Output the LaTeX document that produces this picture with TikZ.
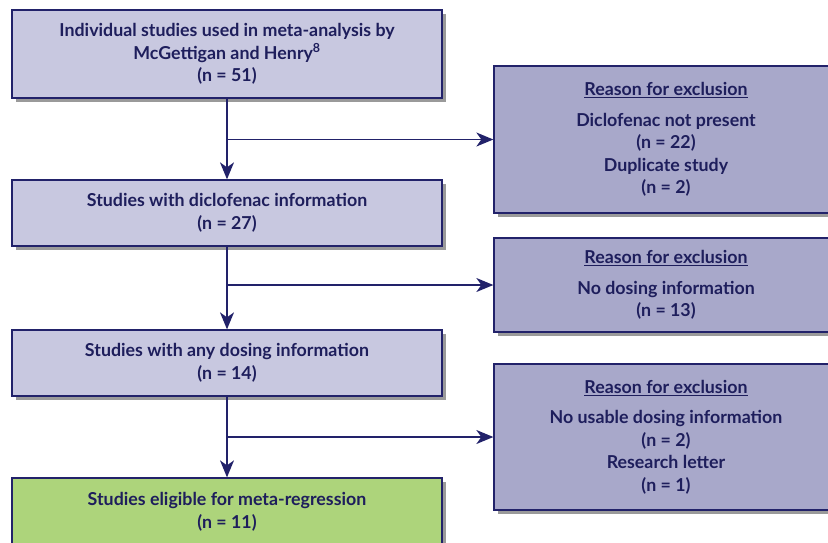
\documentclass[tikz,border=0pt]{standalone}
\usepackage{fontspec}
\setmainfont{Lato}
\usetikzlibrary{arrows.meta,shadows,positioning}
\definecolor{navy}{HTML}{22226A}
\definecolor{txt}{HTML}{1E1E5C}
\definecolor{lightbox}{HTML}{C8C8E0}
\definecolor{darkbox}{HTML}{A8A8CA}
\definecolor{greenbox}{HTML}{ADD47B}
\definecolor{shadowgray}{HTML}{9A9A9A}
\tikzset{
  basebox/.style={draw=navy, line width=1.3pt, align=center, text=txt,
    font=\bfseries\fontsize{17.8}{22.5}\selectfont, inner sep=0pt,
    drop shadow={shadow xshift=4pt, shadow yshift=-4pt, fill=shadowgray, opacity=1}},
  mainbox/.style={basebox, fill=lightbox, minimum width=430pt},
  exclbox/.style={basebox, fill=darkbox, minimum width=344pt},
  finalbox/.style={basebox, fill=greenbox, minimum width=430pt},
  flow/.style={draw=navy, line width=1.4pt, -{Stealth[length=17pt,width=14pt,inset=5pt]}}
}
\begin{document}
\begin{tikzpicture}[x=1pt,y=-1pt]
\useasboundingbox (0,0) rectangle (828,542);
\node[mainbox, minimum height=88pt] (b1) at (227,54)
  {Individual studies used in meta-analysis by\\McGettigan and Henry\textsuperscript{8}\\(n = 51)};
\node[mainbox, minimum height=66pt] (b2) at (227,213)
  {Studies with diclofenac information\\(n = 27)};
\node[mainbox, minimum height=66pt] (b3) at (227,363)
  {Studies with any dosing information\\(n = 14)};
\node[finalbox, minimum height=68pt] (b4) at (227,512)
  {Studies eligible for meta-regression\\(n = 11)};
\node[exclbox, minimum height=147pt] (r1) at (666,139.5)
  {\underline{Reason for exclusion}\\[8pt]Diclofenac not present\\(n = 22)\\Duplicate study\\(n = 2)};
\node[exclbox, minimum height=94pt] (r2) at (666,285)
  {\underline{Reason for exclusion}\\[8pt]No dosing information\\(n = 13)};
\node[exclbox, minimum height=146pt] (r3) at (666,437)
  {\underline{Reason for exclusion}\\[8pt]No usable dosing information\\(n = 2)\\Research letter\\(n = 1)};
\draw[flow] (b1.south) -- (b2.north);
\draw[flow] (b2.south) -- (b3.north);
\draw[flow] (b3.south) -- (b4.north);
\draw[flow] (b1.south |- r1.west) -- (r1.west);
\draw[flow] (b2.south |- r2.west) -- (r2.west);
\draw[flow] (b3.south |- r3.west) -- (r3.west);
\end{tikzpicture}
\end{document}
